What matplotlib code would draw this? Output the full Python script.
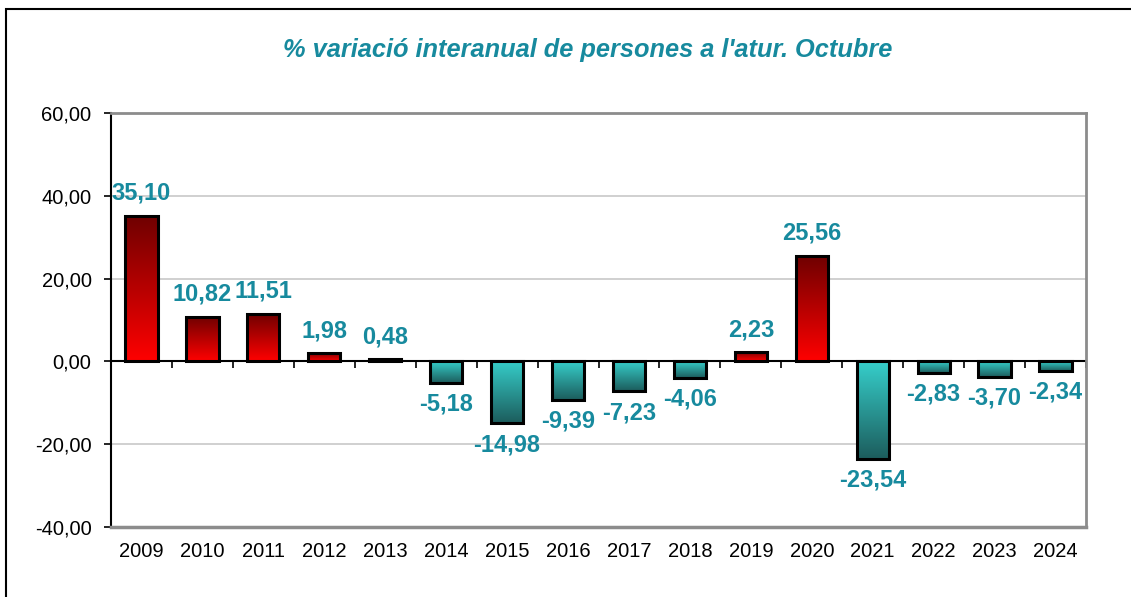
import numpy as np
import matplotlib.pyplot as plt
from matplotlib.colors import LinearSegmentedColormap
from matplotlib.patches import Rectangle
from matplotlib.transforms import blended_transform_factory

plt.rcParams['font.family'] = ['Liberation Sans', 'DejaVu Sans']

# Data
years = ['2009', '2010', '2011', '2012', '2013', '2014', '2015', '2016',
         '2017', '2018', '2019', '2020', '2021', '2022', '2023', '2024']
values = [35.10, 10.82, 11.51, 1.98, 0.48, -5.18, -14.98, -9.39,
          -7.23, -4.06, 2.23, 25.56, -23.54, -2.83, -3.70, -2.34]
title = "% variació interanual de persones a l'atur. Octubre"
y_ticks = [-40, -20, 0, 20, 40, 60]

label_color = '#178a9e'
red_cmap = LinearSegmentedColormap.from_list('r', ['#ff0000', '#6e0000'])   # bottom -> top
teal_cmap = LinearSegmentedColormap.from_list('t', ['#1c5c5c', '#36cfcb'])  # bottom -> top

fig = plt.figure(figsize=(11.31, 5.97), dpi=100)
ax = fig.add_axes([111/1131, 1 - 527/597, (1086-111)/1131, (527-113)/597])

x = np.arange(len(years))
width = 0.53
grad = np.linspace(0, 1, 256).reshape(-1, 1)

for xi, v in zip(x, values):
    cmap = red_cmap if v >= 0 else teal_cmap
    lo, hi = min(0, v), max(0, v)
    ax.imshow(grad, cmap=cmap, origin='lower', aspect='auto',
              extent=[xi - width/2, xi + width/2, lo, hi], zorder=3)
bars = ax.bar(x, values, width=width, facecolor='none', edgecolor='black',
              linewidth=2.2, zorder=4)

for xi, v in zip(x, values):
    txt = f'{v:.2f}'.replace('.', ',')
    if v >= 0:
        ax.annotate(txt, (xi, v), xytext=(0, 8), textcoords='offset points',
                    ha='center', va='bottom', fontsize=17, fontweight='bold',
                    color=label_color, zorder=5)
    else:
        ax.annotate(txt, (xi, v), xytext=(0, -7), textcoords='offset points',
                    ha='center', va='top', fontsize=17, fontweight='bold',
                    color=label_color, zorder=5)

ax.set_xlim(-0.5, len(years) - 0.5)
ax.set_ylim(-40, 60)
ax.set_yticks(y_ticks)
ax.set_yticklabels([f'{t:.2f}'.replace('.', ',') for t in y_ticks], fontsize=14.5)
ax.tick_params(axis='y', length=5, width=1.2, direction='out', pad=9)
for t in [-20, 20, 40]:
    ax.axhline(t, color='#c8c8c8', linewidth=1.2, zorder=1)

# category axis crosses at zero
ax.spines['bottom'].set_position(('data', 0))
ax.spines['bottom'].set_color('black')
ax.spines['bottom'].set_linewidth(1.5)
ax.spines['bottom'].set_zorder(2)
ax.set_xticks(x)
ax.set_xticklabels([])
ax.tick_params(axis='x', which='major', length=0)
ax.set_xticks(np.arange(len(years) + 1) - 0.5, minor=True)
ax.tick_params(axis='x', which='minor', length=5, width=1.2, direction='out')

ax.spines['left'].set_color('black')
ax.spines['left'].set_linewidth(1.5)
for s in ['top', 'right']:
    ax.spines[s].set_color('#8c8c8c')
    ax.spines[s].set_linewidth(2)
ax.plot([0, 1], [0, 0], transform=ax.transAxes, color='#8c8c8c',
        linewidth=2.5, clip_on=False, zorder=6)

tr = blended_transform_factory(ax.transData, ax.transAxes)
for xi, yr in zip(x, years):
    ax.text(xi, -0.06, yr, transform=tr, ha='center', va='center', fontsize=14.5)

fig.text(588/1131, 1 - 50/597, title, ha='center', va='center', fontsize=18.3,
         fontweight='bold', fontstyle='italic', color=label_color)

fig.add_artist(Rectangle((6/1131, -0.1), 1.5, 1 - 9/597 + 0.1, fill=False,
                         edgecolor='black', linewidth=1.5,
                         transform=fig.transFigure))

fig.savefig('out.png', dpi=100)
